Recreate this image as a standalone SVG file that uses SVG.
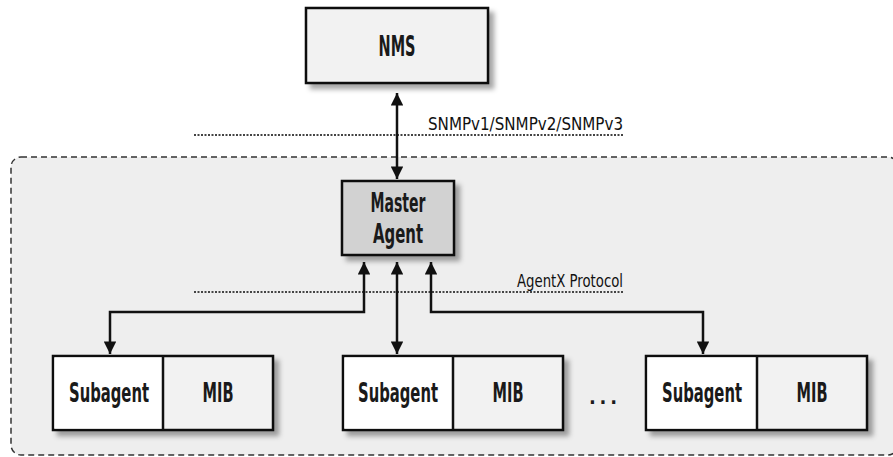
<svg xmlns="http://www.w3.org/2000/svg" width="893" height="457" viewBox="0 0 893 457">
<defs>
<style>
.t{font-family:"DejaVu Sans Condensed","DejaVu Sans","Liberation Sans",sans-serif;font-stretch:condensed;font-weight:bold;fill:#1a1a1a;}
.lbl{font-weight:normal;fill:#111;}
.box{stroke:#111;stroke-width:2.5;}
.dot{stroke:#444;stroke-width:1.8;stroke-dasharray:2 1.5;fill:none;}
.con{stroke:#111;stroke-width:2.5;fill:none;}
</style>
<filter id="sh" x="-10%" y="-10%" width="130%" height="140%">
<feDropShadow dx="5" dy="5" stdDeviation="2.5" flood-color="#000" flood-opacity="0.35"/>
</filter>
<marker id="ah" viewBox="0 0 10 10" refX="10" refY="5" markerWidth="5.5" markerHeight="5" markerUnits="strokeWidth" orient="auto-start-reverse">
<path d="M0,0 L10,5 L0,10 Z" fill="#111"/>
</marker>
</defs>
<rect width="893" height="457" fill="#fff"/>
<rect id="container" x="11" y="157" width="887" height="298" rx="10" fill="#eeeeee" stroke="#333" stroke-width="1.5" stroke-dasharray="6 4"/>
<g id="protocol-lines">
<line class="dot" x1="194" y1="135" x2="623" y2="135"/>
<text class="t lbl" x="428" y="130" font-size="18" textLength="195" lengthAdjust="spacingAndGlyphs">SNMPv1/SNMPv2/SNMPv3</text>
<line class="dot" x1="194" y1="292" x2="623" y2="292"/>
<text class="t lbl" x="517" y="287" font-size="18" textLength="106" lengthAdjust="spacingAndGlyphs">AgentX Protocol</text>
</g>
<g id="nms">
<rect class="box" x="306" y="8" width="182" height="75" fill="#f2f2f2" filter="url(#sh)"/>
<text class="t" x="397" y="56" font-size="28" text-anchor="middle" textLength="37" lengthAdjust="spacingAndGlyphs">NMS</text>
</g>
<g id="master-agent">
<rect class="box" x="342" y="181" width="112" height="74" fill="#d2d2d2" filter="url(#sh)"/>
<text class="t" x="398" y="212" font-size="26" text-anchor="middle" textLength="55" lengthAdjust="spacingAndGlyphs">Master</text>
<text class="t" x="398" y="243" font-size="26" text-anchor="middle" textLength="50" lengthAdjust="spacingAndGlyphs">Agent</text>
</g>
<g id="sub1">
<rect class="box" x="53" y="356" width="220" height="74" fill="#f2f2f2" filter="url(#sh)"/>
<rect x="54.5" y="357.5" width="108.5" height="71" fill="#fff"/>
<line class="box" x1="163" y1="356" x2="163" y2="430"/>
<text class="t" x="109" y="402" font-size="26" text-anchor="middle" textLength="80" lengthAdjust="spacingAndGlyphs">Subagent</text>
<text class="t" x="218" y="402" font-size="26" text-anchor="middle" textLength="31" lengthAdjust="spacingAndGlyphs">MIB</text>
</g>
<g id="sub2">
<rect class="box" x="343" y="356" width="220" height="74" fill="#f2f2f2" filter="url(#sh)"/>
<rect x="344.5" y="357.5" width="108.5" height="71" fill="#fff"/>
<line class="box" x1="453" y1="356" x2="453" y2="430"/>
<text class="t" x="398" y="402" font-size="26" text-anchor="middle" textLength="80" lengthAdjust="spacingAndGlyphs">Subagent</text>
<text class="t" x="508" y="402" font-size="26" text-anchor="middle" textLength="31" lengthAdjust="spacingAndGlyphs">MIB</text>
</g>
<g id="ellipsis">
<text class="t" x="603" y="404" font-size="20" text-anchor="middle" textLength="28" lengthAdjust="spacing">...</text>
</g>
<g id="sub3">
<rect class="box" x="646" y="356" width="221" height="74" fill="#f2f2f2" filter="url(#sh)"/>
<rect x="647.5" y="357.5" width="109" height="71" fill="#fff"/>
<line class="box" x1="757" y1="356" x2="757" y2="430"/>
<text class="t" x="702" y="402" font-size="26" text-anchor="middle" textLength="80" lengthAdjust="spacingAndGlyphs">Subagent</text>
<text class="t" x="812" y="402" font-size="26" text-anchor="middle" textLength="31" lengthAdjust="spacingAndGlyphs">MIB</text>
</g>
<g id="connectors">
<line class="con" x1="397" y1="93" x2="397" y2="179" marker-start="url(#ah)" marker-end="url(#ah)"/>
<polyline class="con" points="364,262 364,312 110,312 110,354" marker-start="url(#ah)" marker-end="url(#ah)"/>
<line class="con" x1="397" y1="262" x2="397" y2="354" marker-start="url(#ah)" marker-end="url(#ah)"/>
<polyline class="con" points="431,262 431,312 703,312 703,354" marker-start="url(#ah)" marker-end="url(#ah)"/>
</g>
</svg>
